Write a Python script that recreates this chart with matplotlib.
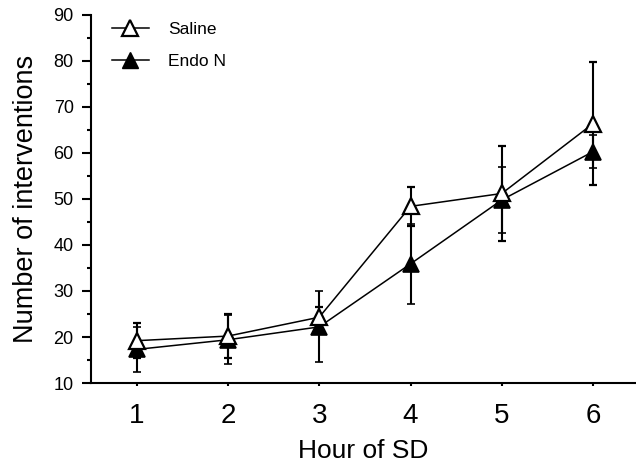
import numpy as np
import matplotlib
matplotlib.use("Agg")
from matplotlib import pyplot as plt, ticker
from matplotlib.lines import Line2D

plt.rcParams['font.family'] = ['Liberation Sans', 'DejaVu Sans']

hours = [1, 2, 3, 4, 5, 6]
saline = [19.2, 20.2, 24.3, 48.4, 51.2, 66.4]
saline_err = [3.8, 4.8, 2.3, 4.3, 10.3, 13.3]
endo = [17.3, 19.4, 22.2, 35.9, 49.8, 60.3]
endo_err = [4.8, 5.3, 7.7, 8.7, 7.1, 3.6]

fig = plt.figure(figsize=(6.36, 4.68), dpi=100)
ax = fig.add_axes([91 / 636, 1 - 383 / 468, 1 - 91 / 636, (383 - 15) / 468])

ax.errorbar(hours, endo, yerr=endo_err, color='black', lw=1.1, elinewidth=1.5,
            capsize=3, capthick=1.5, marker='^', ms=12, mfc='black', mec='black',
            mew=1.2, zorder=3)
ax.errorbar(hours, saline, yerr=saline_err, color='black', lw=1.1, elinewidth=1.5,
            capsize=3, capthick=1.5, marker='^', ms=12, mfc='white', mec='black',
            mew=1.6, zorder=4)

ax.set_xlim(0.5, 6.47)
ax.set_ylim(10, 90)
ax.yaxis.set_major_locator(ticker.MultipleLocator(10))
ax.yaxis.set_minor_locator(ticker.MultipleLocator(5))
ax.set_xticks(hours)

for s in ['top', 'right']:
    ax.spines[s].set_visible(False)
for s in ['left', 'bottom']:
    ax.spines[s].set_linewidth(1.5)

ax.tick_params(axis='y', which='major', direction='out', length=6.5, width=1.5,
               labelsize=13, pad=6)
ax.tick_params(axis='y', which='minor', direction='out', length=3, width=1.5)
ax.tick_params(axis='x', which='major', direction='out', length=2.5, width=1.5,
               labelsize=20, pad=12)

ax.set_xlabel("Hour of SD", fontsize=19, labelpad=7)
ax.set_ylabel("Number of interventions", fontsize=19.5, labelpad=10)

handles = [
    Line2D([], [], color='black', lw=1.1, marker='^', ms=12, mfc='white', mec='black', mew=1.6),
    Line2D([], [], color='black', lw=1.1, marker='^', ms=12, mfc='black', mec='black'),
]
ax.legend(handles, ["Saline", "Endo N"], loc='upper left', bbox_to_anchor=(0.025, 1.0),
          frameon=False, fontsize=12.5, handlelength=2.15, handletextpad=1.1,
          labelspacing=0.95, borderaxespad=0.0)

fig.savefig("out.png", dpi=100)
